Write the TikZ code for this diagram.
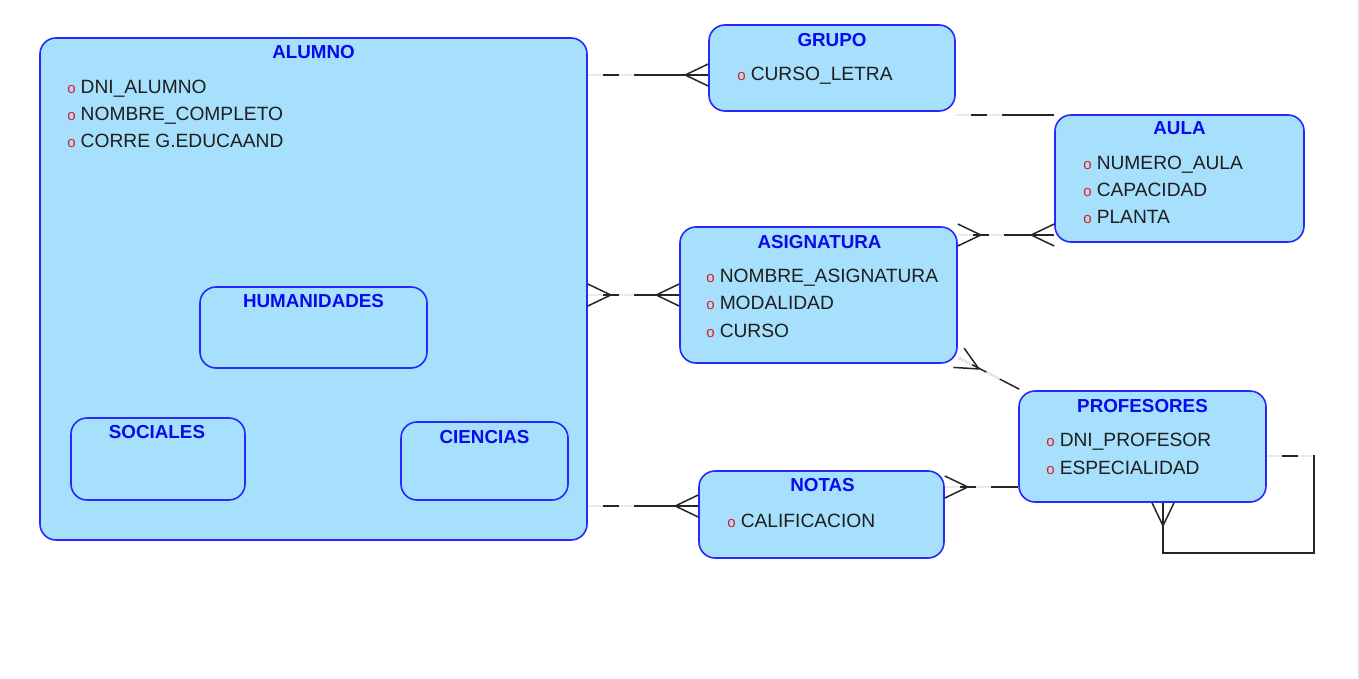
\documentclass[tikz,border=0pt]{standalone}
\usepackage{fontspec}
\setmainfont{Liberation Sans}
\usetikzlibrary{positioning,calc}
\definecolor{entfill}{RGB}{166,224,252}
\definecolor{entline}{RGB}{40,40,250}
\definecolor{titblue}{RGB}{10,10,235}
\definecolor{ored}{RGB}{225,30,40}
\definecolor{atext}{RGB}{30,30,30}
\tikzstyle{ent}=[draw=entline, fill=entfill, rounded corners=16pt, line width=1.6pt, inner sep=0pt]
\tikzstyle{tit}=[font=\bfseries\fontsize{18.8}{18.8}\selectfont, text=titblue, inner sep=0pt, anchor=base]
\tikzstyle{att}=[font=\fontsize{19.2}{19.2}\selectfont, text=atext, inner sep=0pt, anchor=base west]
\tikzstyle{rel}=[draw=black!85, line width=1.5pt]
\tikzstyle{conn}=[rel, postaction={draw=black!8, line width=1.9pt, dash pattern=on 15pt off 16pt on 15pt off 3000pt}]
% attribute with its small red marker
\newcommand{\atr}[1]{{\color{ored}\fontsize{15}{15}\selectfont o}\hspace{5pt}#1}
% crow's foot: edge point, direction into the box
\newcommand{\crow}[2]{\draw[rel, shift={#1}, rotate=#2] (-23,0) -- (0,11) (-23,0) -- (0,-11);}

\begin{document}
\begin{tikzpicture}[x=1pt, y=-1pt]
	\useasboundingbox (0,0) rectangle (1359,679);
	\draw[black!12, line width=1pt] (1358,0) -- (1358,679);

	% entities
	\node[ent, minimum width=547, minimum height=502] (alumno) at (313.5,289) {};
	\node[ent, minimum width=227, minimum height=81] (humanidades) at (313.5,327.5) {};
	\node[ent, minimum width=174, minimum height=82] (sociales) at (158,459) {};
	\node[ent, minimum width=167, minimum height=78] (ciencias) at (484.5,461) {};
	\node[ent, minimum width=246, minimum height=86] (grupo) at (832,68) {};
	\node[ent, minimum width=249, minimum height=127] (aula) at (1179.5,178.5) {};
	\node[ent, minimum width=277, minimum height=136] (asignatura) at (818.5,295) {};
	\node[ent, minimum width=247, minimum height=111] (profesores) at (1142.5,446.5) {};
	\node[ent, minimum width=245, minimum height=87] (notas) at (821.5,514.5) {};

	% titles
	\node[tit] (alumno-t) at ([shift={(0,21)}]alumno.north) {ALUMNO};
	\node[tit] (humanidades-t) at ([shift={(0,21)}]humanidades.north) {HUMANIDADES};
	\node[tit] (sociales-t) at ([shift={(-1,21)}]sociales.north) {SOCIALES};
	\node[tit] (ciencias-t) at ([shift={(0,22)}]ciencias.north) {CIENCIAS};
	\node[tit] (grupo-t) at ([shift={(0,22)}]grupo.north) {GRUPO};
	\node[tit] (aula-t) at ([shift={(0,20.5)}]aula.north) {AULA};
	\node[tit] (asignatura-t) at ([shift={(1,22)}]asignatura.north) {ASIGNATURA};
	\node[tit] (profesores-t) at ([shift={(0,22)}]profesores.north) {PROFESORES};
	\node[tit] (notas-t) at ([shift={(1,21)}]notas.north) {NOTAS};

	% attributes
	\node[att] (alumno-a1) at ([shift={(28,56)}]alumno.north west) {\atr{DNI\_ALUMNO}};
	\node[att] (alumno-a2) at ([shift={(0,27)}]alumno-a1.base west) {\atr{NOMBRE\_COMPLETO}};
	\node[att] (alumno-a3) at ([shift={(0,27)}]alumno-a2.base west) {\atr{CORRE G.EDUCAAND}};
	\node[att] (grupo-a1) at ([shift={(29,56)}]grupo.north west) {\atr{CURSO\_LETRA}};
	\node[att] (aula-a1) at ([shift={(29,55)}]aula.north west) {\atr{NUMERO\_AULA}};
	\node[att] (aula-a2) at ([shift={(0,27)}]aula-a1.base west) {\atr{CAPACIDAD}};
	\node[att] (aula-a3) at ([shift={(0,27)}]aula-a2.base west) {\atr{PLANTA}};
	\node[att] (asignatura-a1) at ([shift={(27,56)}]asignatura.north west) {\atr{NOMBRE\_ASIGNATURA}};
	\node[att] (asignatura-a2) at ([shift={(0,27.5)}]asignatura-a1.base west) {\atr{MODALIDAD}};
	\node[att] (asignatura-a3) at ([shift={(0,28)}]asignatura-a2.base west) {\atr{CURSO}};
	\node[att] (profesores-a1) at ([shift={(28,56)}]profesores.north west) {\atr{DNI\_PROFESOR}};
	\node[att] (profesores-a2) at ([shift={(0,28)}]profesores-a1.base west) {\atr{ESPECIALIDAD}};
	\node[att] (notas-a1) at ([shift={(29,57)}]notas.north west) {\atr{CALIFICACION}};

	% relations
	\draw[conn] (alumno.east |- 0,75) -- (grupo.west |- 0,75);
	\draw[conn] (grupo.east |- 0,115) -- (aula.west |- 0,115);
	\draw[conn] (asignatura.east |- 0,235) -- (aula.west |- 0,235);
	\draw[conn] (alumno.east |- 0,295) -- (asignatura.west |- 0,295);
	\draw[conn] (alumno.east |- 0,506) -- (notas.west |- 0,506);
	\draw[conn] (notas.east |- 0,487) -- (profesores.west |- 0,487);
	\draw[conn] ([shift={(1,-6)}]asignatura.south east) -- ([shift={(1,-1)}]profesores.north west);
	\coordinate (loop) at (1314,553);
	\draw[conn] (profesores.east |- 0,456) -| (loop) -| (profesores.south -| 1163,0);

	% crow's feet
	\crow{(grupo.west |- 0,75)}{0}
	\crow{(aula.west |- 0,235)}{0}
	\crow{(asignatura.east |- 0,235)}{180}
	\crow{(alumno.east |- 0,295)}{180}
	\crow{(asignatura.west |- 0,295)}{0}
	\crow{(notas.west |- 0,506)}{0}
	\crow{(notas.east |- 0,487)}{180}
	\crow{([shift={(1,-6)}]asignatura.south east)}{151}
	\crow{(profesores.south -| 1163,0)}{90}
\end{tikzpicture}
\end{document}
